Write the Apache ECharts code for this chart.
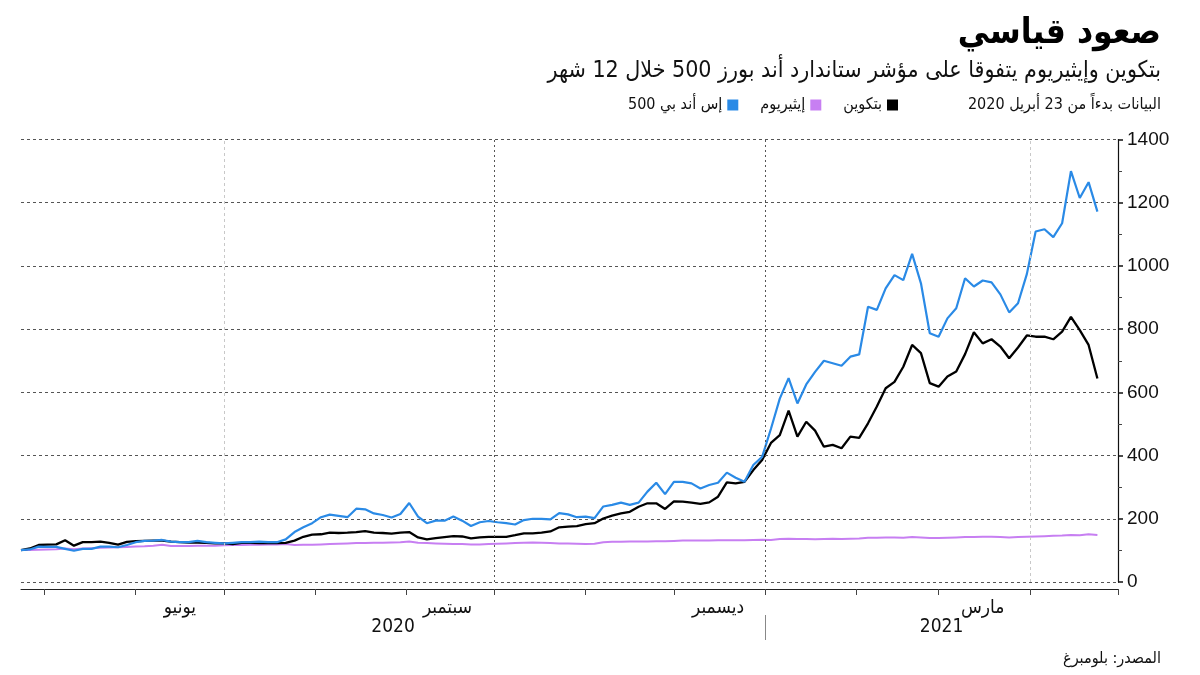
<!DOCTYPE html>
<html><head><meta charset="utf-8">
<script src="https://cdn.jsdelivr.net/npm/echarts@6/dist/echarts.min.js"></script>
<style>html,body{margin:0;padding:0;background:#fff}#chart{width:1200px;height:675px}</style>
</head><body><div id="chart"></div>
<script>
const startDate = [2020, 3, 23];
const stepDays = 3;
const btcBlack = [101,106,117,118,119,132,115,126,126,128,
124,118,127,129,130,131,131,128,126,125,
125,124,122,122,120,124,124,123,123,123,
124,131,143,150,151,156,155,156,158,161,
156,155,153,156,158,141,135,139,142,145,
144,138,141,143,143,143,148,154,154,156,
160,173,175,177,183,186,201,210,217,222,
238,249,249,231,255,254,251,247,252,270,
315,312,317,354,386,440,465,542,460,507,
479,428,434,423,460,456,502,555,613,633,
681,750,724,629,618,650,666,721,790,755,
768,745,708,742,780,776,776,768,792,839,
797,750,644];
const spxBlue = [101,103,112,111,111,105,99,105,105,112,
112,110,117,126,130,131,133,128,126,126,
130,126,124,122,124,126,126,128,126,126,
135,158,173,186,205,213,209,205,232,230,
217,212,204,215,250,207,186,194,194,207,
194,177,189,193,189,186,182,196,200,200,
198,218,214,205,207,202,239,244,251,244,
251,286,314,278,317,317,312,296,307,314,
346,330,317,370,396,485,580,645,565,625,
665,700,692,684,713,720,871,861,929,971,
955,1038,945,787,776,834,866,961,935,954,
948,910,853,882,974,1109,1116,1091,1135,1300,
1215,1265,1172];
const ethPurple = [101,101,102,103,104,106,104,106,107,108,
109,110,111,112,113,115,118,114,114,114,
115,115,115,116,117,117,118,118,119,119,
120,117,118,118,119,120,121,122,123,123,
124,124,125,126,128,124,123,122,121,120,
120,119,119,120,121,122,123,124,125,124,
123,122,122,121,120,121,126,127,127,128,
128,128,129,129,130,131,131,131,131,132,
132,132,132,133,134,133,136,137,136,136,
135,136,137,136,137,138,140,140,141,141,
140,142,141,139,139,140,141,142,142,143,
143,142,141,142,143,144,145,146,147,149,
148,151,149];
const seriesNames = { btc: 'بتكوين', eth: 'إيثيريوم', spx: 'إس أند بي 500' };
const yTicks = { min: 0, max: 1400, interval: 200 };
const monthNames = { 2: 'مارس', 5: 'يونيو', 8: 'سبتمبر', 11: 'ديسمبر' };
const labelMonths = ['2020-06-16', '2020-09-15', '2020-12-16', '2021-03-16'];
const monthTicks = ['2020-05-01','2020-06-01','2020-07-01','2020-08-01','2020-09-01','2020-10-01','2020-11-01','2020-12-01','2021-01-01','2021-02-01','2021-03-01','2021-04-01','2021-05-01'];
const xRange = { min: '2020-04-23', max: '2021-05-01' };
const yearBoundary = '2021-01-01';
const quarterLinesLight = ['2020-07-01', '2021-04-01'];
const quarterLinesDark = ['2020-10-01', '2021-01-01'];
const texts = {
  title: 'صعود قياسي',
  subtitle: 'بتكوين وإيثيريوم يتفوقا على مؤشر ستاندارد أند بورز 500 خلال 12 شهر',
  note: 'البيانات بدءاً من 23 أبريل 2020',
  source: 'المصدر: بلومبرغ'
};

// ---- build ----
function dateAt(i) {
  return new Date(startDate[0], startDate[1], startDate[2] + stepDays * i).getTime();
}
function toPairs(arr) { return arr.map((v, i) => [dateAt(i), v]); }
function parseLocal(s) { const p = s.split('-').map(Number); return new Date(p[0], p[1]-1, p[2]).getTime(); }

const xMin = parseLocal(xRange.min), xMax = parseLocal(xRange.max), yb = parseLocal(yearBoundary);
const yearLabelPos = [(xMin + yb) / 2, (yb + xMax) / 2];

const AR = "'DejaVu Sans Condensed','DejaVu Sans',sans-serif";
const NUM = "'Liberation Sans','DejaVu Sans',sans-serif";

const chart = echarts.init(document.getElementById('chart'), null, { renderer: 'canvas' });
chart.setOption({
  animation: false,
  backgroundColor: '#fff',
  title: [
    { text: texts.title, right: 34, top: 11, textStyle: { fontFamily: AR, fontSize: 35, fontWeight: 'bold', color: '#000' } },
    { text: texts.subtitle, right: 34, top: 55, textStyle: { fontFamily: AR, fontSize: 23, fontWeight: 'normal', color: '#111' } },
    { text: texts.note, right: 34, top: 92, textStyle: { fontFamily: AR, fontSize: 16, fontWeight: 'normal', color: '#111' } },
    { text: texts.source, right: 34, top: 646, textStyle: { fontFamily: AR, fontSize: 16, fontWeight: 'normal', color: '#111' } }
  ],
  legend: {
    data: [seriesNames.spx, seriesNames.eth, seriesNames.btc],
    right: 297, top: 92, align: 'right', icon: 'rect', itemWidth: 11, itemHeight: 11, itemGap: 22,
    textStyle: { fontFamily: AR, fontSize: 16, color: '#111' }
  },
  grid: { left: 21, right: 82, top: 139.5, bottom: 93 },
  xAxis: [
    {
      type: 'value', min: xMin, max: xMax, position: 'bottom', offset: 7,
      axisLine: { show: true, onZero: false, lineStyle: { color: '#222', width: 1 } },
      axisTick: { show: true, customValues: monthTicks.map(parseLocal), length: 6, lineStyle: { color: '#444' } },
      axisLabel: {
        show: true, customValues: labelMonths.map(parseLocal), margin: 10,
        formatter: v => monthNames[new Date(v).getMonth()] || '',
        fontFamily: AR, fontSize: 19, color: '#111'
      },
      splitLine: { show: false }
    },
    {
      type: 'value', min: xMin, max: xMax, position: 'bottom', offset: 33,
      axisLine: { show: false, onZero: false },
      axisTick: { show: true, customValues: [yb], length: 25, lineStyle: { color: '#888' } },
      axisLabel: {
        show: true, customValues: yearLabelPos, margin: 3,
        formatter: v => String(new Date(v).getFullYear()),
        fontFamily: AR, fontSize: 19, color: '#111'
      },
      splitLine: { show: false }
    }
  ],
  yAxis: {
    type: 'value', position: 'right', min: yTicks.min, max: yTicks.max, interval: yTicks.interval,
    axisLine: { show: true, lineStyle: { color: '#111', width: 1.2 } },
    axisTick: { show: true, length: 5, lineStyle: { color: '#111', width: 1.5 } },
    minorTick: { show: true, splitNumber: 2, length: 4, lineStyle: { color: '#444' } },
    axisLabel: { margin: 9, fontFamily: NUM, fontSize: 19, color: '#111', formatter: v => String(v) },
    splitLine: { show: true, lineStyle: { color: '#555', type: [3, 3], width: 1 } }
  },
  series: [
    {
      name: seriesNames.eth, type: 'line', data: toPairs(ethPurple), showSymbol: false, symbol: 'none',
      lineStyle: { color: '#c77ff2', width: 2 }, itemStyle: { color: '#c77ff2' },
      markLine: {
        silent: true, symbol: 'none', label: { show: false },
        data: quarterLinesLight.map(d => ({ xAxis: parseLocal(d), lineStyle: { color: '#c8c8c8', type: [3, 3], width: 1 } }))
          .concat(quarterLinesDark.map(d => ({ xAxis: parseLocal(d), lineStyle: { color: '#555', type: [2, 3], width: 1 } })))
      },
      z: 2
    },
    {
      name: seriesNames.btc, type: 'line', data: toPairs(btcBlack), showSymbol: false, symbol: 'none',
      lineStyle: { color: '#000', width: 2.3 }, itemStyle: { color: '#000' }, z: 3
    },
    {
      name: seriesNames.spx, type: 'line', data: toPairs(spxBlue), showSymbol: false, symbol: 'none',
      lineStyle: { color: '#2a8ae6', width: 2.2 }, itemStyle: { color: '#2a8ae6' }, z: 4
    }
  ]
});
</script></body></html>
